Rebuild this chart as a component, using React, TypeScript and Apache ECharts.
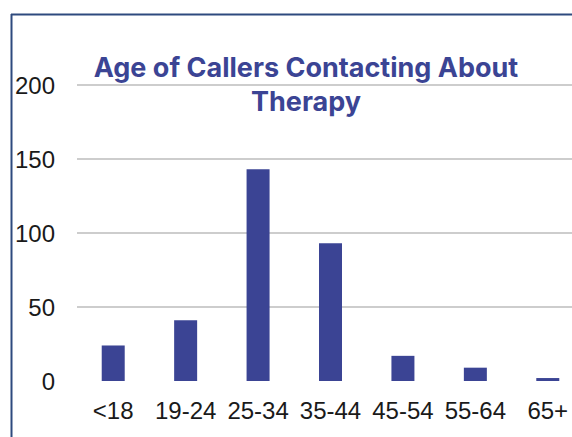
import React, { useEffect, useRef } from "react";
import * as echarts from "echarts";

const categories = ["<18", "19-24", "25-34", "35-44", "45-54", "55-64", "65+"];
const callers = [24, 41, 143, 93, 17, 9, 2];
const titleText = "Age of Callers Contacting About\nTherapy";

export default function App() {
  const ref = useRef<HTMLDivElement>(null);
  useEffect(() => {
    if (!ref.current) return;
    const chart = echarts.init(ref.current, null, { renderer: "svg" });
    chart.setOption({
      animation: false,
      backgroundColor: "#ffffff",
      grid: {
        left: 77,
        width: 507,
        top: 85,
        bottom: 56,
        containLabel: false,
        outerBoundsMode: "none",
      },
      xAxis: {
        type: "category",
        data: categories,
        axisLine: { show: false },
        axisTick: { show: false },
        axisLabel: {
          color: "#1a1a1a",
          fontFamily: "Liberation Sans",
          fontSize: 24,
          margin: 17,
          interval: 0,
        },
      },
      yAxis: {
        type: "value",
        min: 0,
        max: 200,
        interval: 50,
        axisLine: { show: false },
        axisTick: { show: false },
        axisLabel: {
          color: "#1a1a1a",
          fontFamily: "Liberation Sans",
          fontSize: 24,
          margin: 22,
        },
        splitLine: {
          show: true,
          lineStyle: { color: ["rgba(0,0,0,0)", "#bdbdbd", "#bdbdbd", "#bdbdbd", "#bdbdbd"], width: 1.5 },
        },
      },
      series: [
        {
          type: "bar",
          data: callers,
          barWidth: 23,
          itemStyle: { color: "#3B4494" },
        },
      ],
      graphic: [
        {
          type: "line",
          shape: { x1: 11, y1: 14.5, x2: 572, y2: 14.5 },
          style: { stroke: "#2E4A7E", lineWidth: 2 },
          z: 100,
        },
        {
          type: "line",
          shape: { x1: 11.5, y1: 14, x2: 11.5, y2: 437 },
          style: { stroke: "#2E4A7E", lineWidth: 2 },
          z: 100,
        },
        {
          type: "text",
          x: 306,
          y: 50,
          z: 100,
          style: {
            text: titleText,
            textAlign: "center",
            textVerticalAlign: "top",
            fill: "#3B4494",
            fontFamily: "Inter",
            fontWeight: "bold",
            fontSize: 27,
            lineHeight: 34,
          },
        },
      ],
    });
    return () => chart.dispose();
  }, []);
  return (
    <div
      ref={ref}
      style={{ position: "absolute", left: 0, top: 0, width: 572, height: 437 }}
    />
  );
}
